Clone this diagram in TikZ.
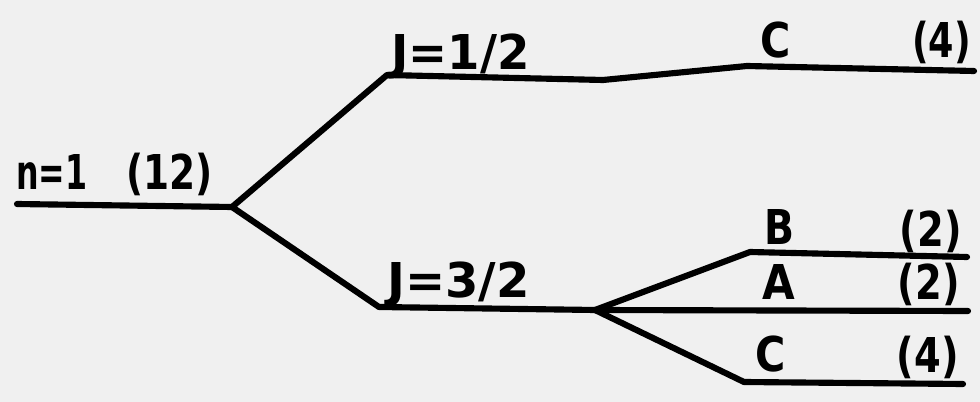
\documentclass[tikz,border=0pt]{standalone}
\usepackage{fontspec}
\setmainfont{DejaVu Sans}
\newcommand{\narrow}[2]{\scalebox{#1}[1]{#2}}
\begin{document}
\begin{tikzpicture}[x=0.75pt,y=-0.75pt,
  level/.style={line width=4.6pt,line cap=round,line join=round},
  lbl/.style={inner sep=0pt,font=\bfseries\fontsize{36}{40}\selectfont}]
% paper
\fill[black!6] (0,0) rectangle (980,402);
\useasboundingbox (0,0) rectangle (980,402);
% junction points of the level scheme
\coordinate (n0) at (17,204);
\coordinate (s0) at (232,207);
\coordinate (h1) at (387,75);
\coordinate (h2) at (603,80);
\coordinate (h3) at (747,66);
\coordinate (h4) at (974,71);
\coordinate (q1) at (379,307);
\coordinate (s1) at (595,310);
\coordinate (b1) at (750,252);
\coordinate (b2) at (967,257);
\coordinate (a2) at (968,311);
\coordinate (c1) at (744,382);
\coordinate (c2) at (963,384);
% levels
\draw[level] (n0) -- (s0) -- (h1) -- (h2) -- (h3) -- (h4);
\draw[level] (s0) -- (q1) -- (s1) -- (a2);
\draw[level] (s1) -- (b1) -- (b2);
\draw[level] (s1) -- (c1) -- (c2);
% labels
\node[lbl,anchor=base west] (tn) at (16,190) {\narrow{0.66}{n=1}};
\node[lbl,anchor=base west] (tn12) at (126,190) {\narrow{0.78}{(12)}};
\node[lbl,anchor=base west] (tj1) at (391,70) {\narrow{0.97}{J=1/2}};
\node[lbl,anchor=base west] (tc1) at (760,58) {\narrow{0.86}{C}};
\node[lbl,anchor=base east] (tc1g) at (971,58) {\narrow{0.76}{(4)}};
\node[lbl,anchor=base west] (tj3) at (387,297) {J=3/2};
\node[lbl,anchor=base west] (tb) at (764,245) {\narrow{0.82}{B}};
\node[lbl,anchor=base east] (tbg) at (962,247) {\narrow{0.8}{(2)}};
\node[lbl,anchor=base west] (ta) at (762,299) {\narrow{0.88}{A}};
\node[lbl,anchor=base east] (tag) at (960,300) {\narrow{0.8}{(2)}};
\node[lbl,anchor=base west] (tc2) at (755,371) {\narrow{0.86}{C}};
\node[lbl,anchor=base east] (tc2g) at (959,372) {\narrow{0.8}{(4)}};
\end{tikzpicture}
\end{document}
